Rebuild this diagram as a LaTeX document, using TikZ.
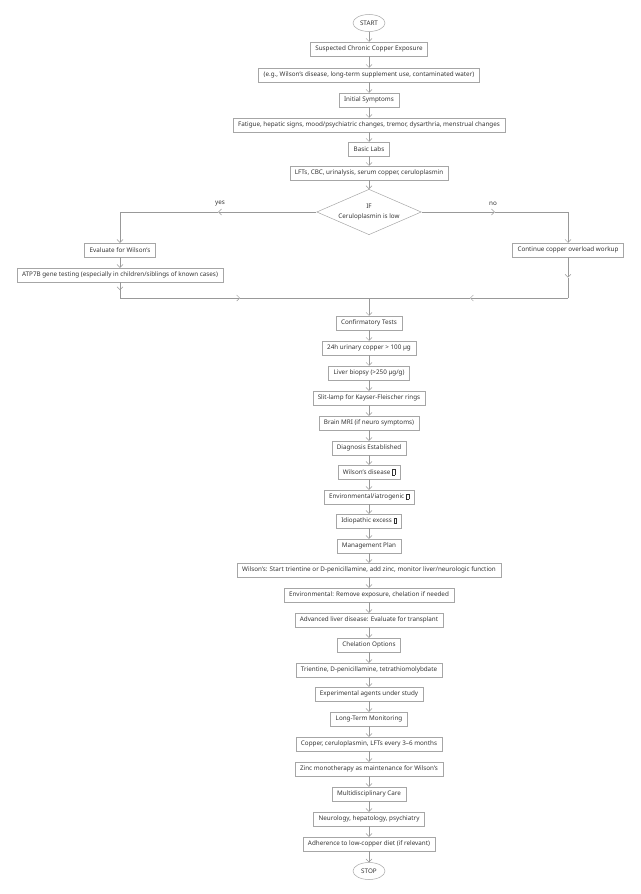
\documentclass[tikz,border=0pt]{standalone}
\usepackage{fontspec}
\setmainfont{Noto Sans}
\usetikzlibrary{arrows.meta,shapes.geometric,calc}
\newcommand{\tofu}{{\setlength{\fboxsep}{0pt}\setlength{\fboxrule}{0.3pt}\fbox{\rule{0pt}{5pt}\hspace{2.5pt}}}}
\tikzset{
    box/.style={draw=black!35, rectangle, inner xsep=5pt, minimum height=14pt, text=black!80, font=\fontsize{6.3}{8}\selectfont, line width=0.5pt},
    term/.style={box, ellipse, inner xsep=2pt, minimum height=17pt, minimum width=32pt},
    line/.style={draw=black!40, line width=0.5pt},
    arr/.style={line, -{Straight Barb[length=3pt,width=6pt]}},
    lbl/.style={text=black!80, font=\fontsize{6.3}{8}\selectfont}
}
\begin{document}
\begin{tikzpicture}[x=1pt,y=1pt]
    \useasboundingbox (0,0) rectangle (640,-894);
    % top part
    \node[term] (start) at (369,-23) {START};
    \node[box] (n1) at (369,-49) {Suspected Chronic Copper Exposure};
    \node[box] (n2) at (369,-75) {(e.g., Wilson’s disease, long-term supplement use, contaminated water)};
    \node[box] (n3) at (369,-100) {Initial Symptoms};
    \node[box] (n4) at (369,-125) {Fatigue, hepatic signs, mood/psychiatric changes, tremor, dysarthria, menstrual changes};
    \node[box] (n5) at (369,-149) {Basic Labs};
    \node[box] (n6) at (369,-173) {LFTs, CBC, urinalysis, serum copper, ceruloplasmin};
    \node[box, diamond, aspect=2.3, inner sep=1pt, align=center] (dia) at (369,-212) {IF\\[2pt]Ceruloplasmin is low};
    \foreach \a/\b in {start/n1, n1/n2, n2/n3, n3/n4, n4/n5, n5/n6, n6/dia}
        \draw[arr] (\a) -- (\b);
    % branches
    \node[box] (eval) at (120,-250) {Evaluate for Wilson’s};
    \node[box] (gene) at (120,-275) {ATP7B gene testing (especially in children/siblings of known cases)};
    \node[box] (cont) at (568,-250) {Continue copper overload workup};
    \node[lbl] at (220,-204) {yes};
    \node[lbl] at (493,-204) {no};
    \coordinate (yc) at (120,-212);
    \coordinate (nc) at (568,-212);
    \coordinate (gl) at (120,-298);
    \coordinate (gr) at (568,-298);
    \coordinate (mg) at (369,-298);
    \draw[arr] (dia.west) -- ($(dia.west)!0.5!(yc)$);
    \draw[line] ($(dia.west)!0.5!(yc)$) -- (yc);
    \draw[arr] (yc) -- (eval);
    \draw[arr] (dia.east) -- ($(dia.east)!0.5!(nc)$);
    \draw[line] ($(dia.east)!0.5!(nc)$) -- (nc);
    \draw[arr] (nc) -- (cont);
    \draw[arr] (eval) -- (gene);
    \draw[arr] (gene) -- ($(gene.south)!0.5!(gl)$);
    \draw[line] ($(gene.south)!0.5!(gl)$) -- (gl);
    \draw[arr] (gl) -- (240,-298);
    \draw[line] (240,-298) -- (mg);
    \draw[arr] (cont) -- ($(cont.south)!0.5!(gr)$);
    \draw[line] ($(cont.south)!0.5!(gr)$) -- (gr);
    \draw[arr] (gr) -- (470,-298);
    \draw[line] (470,-298) -- (mg);
    % lower chain
    \node[box] (m1) at (369,-323) {Confirmatory Tests};
    \node[box] (m2) at (369,-348) {24h urinary copper > 100 µg};
    \node[box] (m3) at (369,-373) {Liver biopsy (>250 µg/g)};
    \node[box] (m4) at (369,-398) {Slit-lamp for Kayser-Fleischer rings};
    \node[box] (m5) at (369,-423) {Brain MRI (if neuro symptoms)};
    \node[box] (m6) at (369,-448) {Diagnosis Established};
    \node[box] (m7) at (369,-472) {Wilson’s disease \tofu};
    \node[box] (m8) at (369,-497) {Environmental/iatrogenic \tofu};
    \node[box] (m9) at (369,-521) {Idiopathic excess \tofu};
    \node[box] (m10) at (369,-546) {Management Plan};
    \node[box] (m11) at (369,-570) {Wilson’s: Start trientine or D-penicillamine, add zinc, monitor liver/neurologic function};
    \node[box] (m12) at (369,-595) {Environmental: Remove exposure, chelation if needed};
    \node[box] (m13) at (369,-620) {Advanced liver disease: Evaluate for transplant};
    \node[box] (m14) at (369,-645) {Chelation Options};
    \node[box] (m15) at (369,-670) {Trientine, D-penicillamine, tetrathiomolybdate};
    \node[box] (m16) at (369,-694) {Experimental agents under study};
    \node[box] (m17) at (369,-719) {Long-Term Monitoring};
    \node[box] (m18) at (369,-744) {Copper, ceruloplasmin, LFTs every 3–6 months};
    \node[box] (m19) at (369,-769) {Zinc monotherapy as maintenance for Wilson’s};
    \node[box] (m20) at (369,-794) {Multidisciplinary Care};
    \node[box] (m21) at (369,-819) {Neurology, hepatology, psychiatry};
    \node[box] (m22) at (369,-844) {Adherence to low-copper diet (if relevant)};
    \node[term] (stop) at (369,-871) {STOP};
    \draw[arr] (mg) -- (m1);
    \foreach \i [evaluate=\i as \j using int(\i+1)] in {1,...,21}
        \draw[arr] (m\i) -- (m\j);
    \draw[arr] (m22) -- (stop);
\end{tikzpicture}
\end{document}
